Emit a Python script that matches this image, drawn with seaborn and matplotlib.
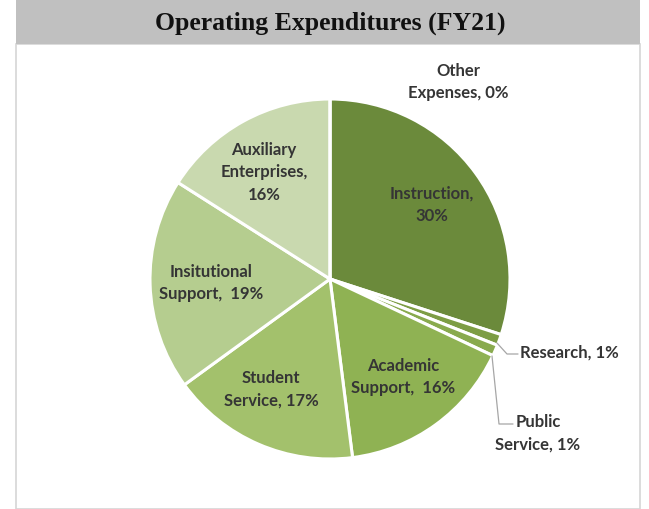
import matplotlib
matplotlib.use("Agg")
import matplotlib.pyplot as plt
from matplotlib.patches import Rectangle
import seaborn as sns

# Operating expenditure shares, FY21 (percent)
categories = ["Instruction", "Research", "Public Service", "Academic Support",
              "Student Service", "Insitutional Support", "Auxiliary Enterprises",
              "Other Expenses"]
shares = [30, 1, 1, 16, 17, 19, 16, 0]
slice_colors = ["#6b8a3b", "#7d9d44", "#89aa4e", "#8fb253",
                "#a3c16c", "#b5cd8f", "#c9d9af", "#c9d9af"]
title = "Operating Expenditures (FY21)"

sns.set_theme(style="white")
palette = sns.color_palette(slice_colors)

W, H = 649, 509
fig = plt.figure(figsize=(W / 100, H / 100), dpi=100)
ax = fig.add_axes([0, 0, 1, 1])

# Card frame and grey header band
ax.add_patch(Rectangle((16, 0), 624, H - 44, facecolor="white",
                       edgecolor="#d6d6d6", linewidth=1.2, zorder=0))
ax.add_patch(Rectangle((16, H - 44), 624, 44, facecolor="#c0c0c0",
                       edgecolor="none", zorder=1))
ax.text(330, H - 23, title, ha="center", va="center",
        fontsize=18.5, fontweight="bold", family="Liberation Serif",
        color="#111111", zorder=2)

cx, cy, r = 330, H - 279, 180
wedges, _ = ax.pie(shares, colors=palette, startangle=90, counterclock=False,
                   center=(cx, cy), radius=r, frame=True,
                   wedgeprops=dict(edgecolor="white", linewidth=2.2))

lab_kw = dict(ha="center", va="center", fontsize=12, fontweight="bold",
              family="Lato", color="#353535", linespacing=1.5)

def pct(i):
    return f"{shares[i]}%"

ax.text(432, H - 205, f"Instruction,\n{pct(0)}", **lab_kw)
ax.text(403, H - 377, f"Academic\nSupport,  {pct(3)}", **lab_kw)
ax.text(271, H - 389, f"Student\nService, {pct(4)}", **lab_kw)
ax.text(211, H - 283, f"Insitutional\nSupport,  {pct(5)}", **lab_kw)
ax.text(264, H - 172, f"Auxiliary\nEnterprises,\n{pct(6)}", **lab_kw)
ax.text(458, H - 82, f"Other\nExpenses, {pct(7)}", **lab_kw)

# Leader-labelled thin slices
ax.text(520, H - 353, f"Research, {pct(1)}", **{**lab_kw, "ha": "left"})
ax.text(538, H - 433, f"Public\nService, {pct(2)}", **lab_kw)
ax.plot([497, 507, 518], [H - 343, H - 354, H - 354], color="#a6a6a6", lw=0.9)
ax.plot([492, 499, 513], [H - 356, H - 424, H - 424], color="#a6a6a6", lw=0.9)

ax.set_xlim(0, W)
ax.set_ylim(0, H)
ax.axis("off")

fig.savefig("out.png", dpi=100, facecolor="white")
